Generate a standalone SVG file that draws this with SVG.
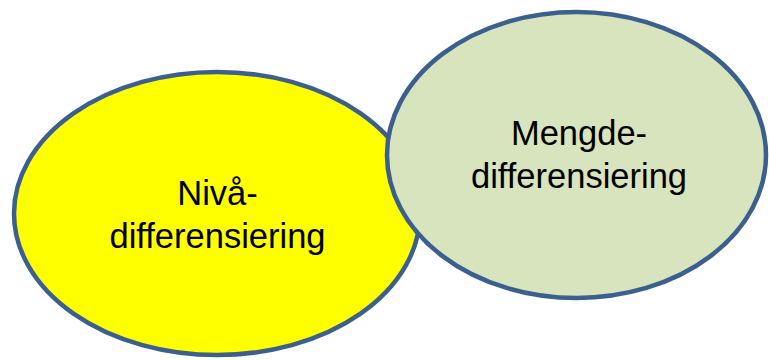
<svg xmlns="http://www.w3.org/2000/svg" width="769" height="360" viewBox="0 0 769 360">
<style>
.node{stroke:#3b5f8f;stroke-width:4.5}
.lbl{font-family:"Liberation Sans",Arial,sans-serif;font-size:34.5px;fill:#000;text-anchor:middle}
</style>
<rect width="769" height="360" fill="#fff"/>
<g id="connectors"></g>
<g id="niva">
<ellipse class="node" cx="217" cy="213.5" rx="203" ry="141.5" fill="#ffff00"/>
<text class="lbl" x="217.5" y="205">Nivå-</text>
<text class="lbl" x="217.5" y="248">differensiering</text>
</g>
<g id="mengde">
<ellipse class="node" cx="576.5" cy="155" rx="189.5" ry="143" fill="#d7e4bd"/>
<text class="lbl" x="579" y="145">Mengde-</text>
<text class="lbl" x="579" y="188">differensiering</text>
</g>
</svg>
